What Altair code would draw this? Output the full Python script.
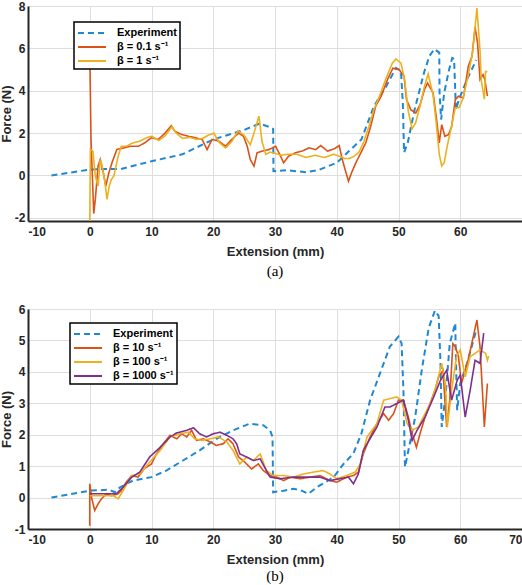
import altair as alt
import pandas as pd

# ---------------- Panel (a) ----------------
a_exp_x = [-6.2, 0, 2, 5, 10, 15, 20, 25, 27.5, 29, 29.7, 29.75, 32, 35, 37, 40, 42, 44, 46, 47, 48, 49.6, 50.4, 50.7, 50.9,
           51.5, 52.6, 54.2, 55.0, 55.8, 56.6, 56.65, 56.9, 57.4, 58.2, 58.7, 59.0, 59.3, 59.8, 61.2, 62.6]
a_exp_y = [0, 0.28, 0.3, 0.3, 0.67, 1.0, 1.7, 2.15, 2.45, 2.3, 2.2, 0.2, 0.25, 0.15, 0.25, 0.6, 1.15, 1.7, 3.25, 3.75, 4.2, 5.08, 4.92, 3.44, 1.08,
           1.55, 3.1, 4.92, 5.63, 5.97, 5.8, 3.9, 2.64, 3.9, 5.0, 5.55, 5.5, 3.1, 3.6, 4.6, 5.45]

a_r1_x = [0, 0.2, 0.65, 0.9, 1.35, 1.7, 2.2, 2.6, 3.1, 3.6, 4.4, 5.5, 6.6, 7.9, 8.9, 10, 11.1, 12.2, 13.2, 13.8, 14.9, 16, 17.1, 18.2,
          19, 19.8, 20.9, 22, 23, 24.1, 24.9, 25.5, 26, 26.6, 27.1, 27.9, 29, 30.1, 30.9, 31.4, 32.2, 33.3, 34.4, 35.5, 36.6,
          37.4, 38.5, 39.6, 40.4, 40.9, 41.5, 41.9, 42.4, 43.1, 43.9, 44.7, 45.5, 46.3, 47.2, 48.2, 49.1, 50.1, 50.9, 51.3,
          52.0, 52.8, 53.5, 54.2, 54.7, 55.6, 56.1, 56.6, 57, 57.5, 58.1, 58.6, 59.2, 59.7, 60.5, 61.3, 61.9, 62.4, 62.8,
          63.2, 63.7, 64.0, 64.4]
a_r1_y = [6.0, 1.7, -1.8, -1.13, 0.44, 0.75, 0.13, -0.5, 0.13, 0.6, 1.23, 1.3, 1.38, 1.38, 1.54, 1.78, 1.7, 2.0, 2.35, 2.08, 1.93, 1.85, 1.78, 1.7,
          1.22, 1.7, 1.62, 1.38, 1.7, 2.0, 1.85, 1.38, 0.75, 0.44, 1.07, 1.15, 1.22, 1.38, 0.91, 0.6, 0.91, 1.07, 1.15, 1.3, 1.22,
          1.41, 1.15, 1.26, 1.41, 0.75, 0.13, -0.27, 0.13, 0.6, 1.07, 1.54, 2.32, 3.27, 3.74, 4.52, 5.07, 5.0, 4.68, 3.58,
          3.1, 2.95, 3.34, 4.05, 4.36, 3.9, 2.8, 1.54, 2.4, 1.85, 1.93, 2.3, 3.58, 3.74, 3.66, 5.15, 5.62, 7.0, 6.26,
          4.53, 4.76, 4.5, 3.74]

a_r2_x = [0, 0.1, 0.5, 0.9, 1.35, 1.7, 2.0, 2.4, 2.8, 3.15, 3.5, 3.9, 4.6, 5.1, 5.9, 7.0, 8.1, 9.2, 10, 11.2, 12.3, 13.3, 14, 15,
          16.2, 17.3, 18.3, 19.2, 20.1, 21, 22, 23, 24, 25, 26, 26.8, 27.4, 27.9, 28.5, 29.2, 30, 31, 32, 33.5, 35, 36.5, 38,
          39.5, 40.5, 41.3, 42, 42.8, 43.6, 44.4, 45.2, 46, 47, 48, 49, 49.6, 50.4, 51, 51.6, 52.2, 52.8, 53.5, 54.2, 54.8,
          55.6, 56.1, 56.6, 57.0, 57.4, 57.9, 58.5, 59.2, 59.8, 60.4, 61.2, 62.0, 62.7, 63.2, 63.4, 63.9, 64.1, 64.4]
a_r2_y = [-2.25, 1.23, 1.16, -0.03, -0.5, 0.75, 0.44, -0.19, -1.13, -0.5, -0.19, -0.03, 0.9, 1.38, 1.38, 1.54, 1.62, 1.78, 1.85, 1.65, 1.9, 2.3, 2.0, 1.75,
          1.8, 1.7, 1.75, 1.9, 2.0, 1.55, 1.3, 1.6, 2.1, 1.9, 1.45, 2.2, 2.8, 1.6, 1.0, 1.1, 1.05, 0.95, 1.0, 1.0, 0.85, 0.95, 0.85,
          1.0, 0.9, 0.8, 0.8, 0.9, 1.1, 1.6, 2.3, 3.1, 3.8, 4.6, 5.3, 5.5, 5.3, 4.5, 3.0, 2.2, 2.5, 3.3, 4.2, 4.8,
          3.8, 2.5, 1.0, 0.45, 0.6, 1.4, 2.2, 3.2, 3.2, 3.6, 4.6, 5.8, 7.9, 5.9, 4.5, 3.6, 4.9, 4.9]

# ---------------- Panel (b) ----------------
b_exp_x = [-6.2, 0, 3.2, 4.05, 4.9, 7, 10, 12.4, 15.1, 17.8, 20.5, 23.2, 25.9, 28.1, 29.2, 29.6, 29.7, 31.4, 33, 34.3, 35.4, 36.8,
           39.5, 41.1, 42.7, 44, 45.4, 47, 48.6, 50, 50.5, 50.8, 51.05, 51.6, 52.7, 53.8, 54.9, 55.9, 56.5, 56.8, 57.0, 57.6,
           58.3, 59.2, 59.25, 59.5, 60.0, 61.1, 62.6]
b_exp_y = [0, 0.22, 0.25, 0.17, 0.33, 0.54, 0.65, 0.86, 1.18, 1.5, 1.87, 2.14, 2.35, 2.3, 2.14, 1.93, 0.17, 0.22, 0.28, 0.22, 0.12, 0.33,
           0.65, 1.07, 1.4, 2.04, 3.1, 3.95, 4.8, 5.12, 4.9, 3.4, 0.97, 1.5, 2.56, 4.1, 5.4, 5.95, 5.78, 4.3, 2.25, 3.2,
           4.9, 5.55, 4.8, 2.78, 3.63, 4.27, 5.33]

b_r1_x = [0, 0, 0.3, 0.8, 1.35, 1.9, 2.7, 3.5, 4.6, 5.1, 5.9, 6.8, 7.8, 8.9, 10, 10.8, 11.9, 13, 14.1, 14.9, 15.7, 16.5, 17.3,
          18.4, 19.5, 20.5, 21.6, 22.4, 23.2, 24.1, 25.1, 26.2, 27.3, 28.1, 29.2, 30.3, 31.4, 32.4, 34.1, 35.7, 37.3, 38.9, 40,
          41.6, 42.7, 43.5, 44.3, 45.4, 46.5, 47.6, 48.4, 49.2, 50, 50.8, 51.6, 52.2, 52.9, 53.5, 54.3, 55.1, 55.9, 56.5,
          57.2, 57.8, 58.3, 58.8, 59.2, 59.7, 60.2, 61.3, 62.2, 62.7, 63.2, 63.9, 64.4]
b_r1_y = [-0.9, 0.44, 0.0, -0.41, -0.2, -0.04, 0.12, 0.06, 0.12, 0.22, 0.49, 0.7, 0.65, 0.93, 1.07, 1.39, 1.71, 1.98, 1.87, 2.03, 1.93, 2.14, 1.82,
          1.87, 1.77, 1.66, 1.71, 1.87, 1.71, 1.29, 1.13, 0.91, 1.07, 0.86, 0.7, 0.65, 0.54, 0.65, 0.6, 0.65, 0.7, 0.54, 0.49,
          0.65, 0.7, 0.81, 1.39, 1.93, 2.35, 2.67, 2.46, 2.67, 3.1, 3.1, 2.56, 2.04, 1.6, 2.04, 2.56, 2.99, 3.41, 3.84,
          4.05, 2.25, 3.1, 4.9, 4.8, 4.5, 3.63, 4.4, 5.2, 5.65, 4.8, 2.25, 3.63]

b_r2_x = [0, 1.6, 3.8, 4.6, 5.4, 6.8, 8.1, 9.7, 11.4, 13, 14.6, 16, 17, 18.1, 19.5, 20.8, 22.2, 23.2, 24.3, 25.4, 26.5, 27.6,
          28.6, 29.7, 31.4, 33, 34.6, 36.2, 37.8, 38.9, 40, 41.6, 43, 43.8, 44.9, 46.5, 47.6, 48.6, 49.7, 50.5, 51.4, 52.2,
          53.2, 54.3, 55.4, 56.2, 57, 57.6, 57.9, 58.6, 59.4, 60, 60.8, 61.6, 62.4, 63.2, 64.1, 64.4, 64.6]
b_r2_y = [0.06, 0.06, 0.06, -0.04, 0.22, 0.7, 0.75, 1.13, 1.5, 1.93, 2.03, 2.08, 1.87, 1.82, 1.87, 1.93, 1.77, 1.5, 1.07, 1.29, 1.18, 1.39,
          0.86, 0.7, 0.7, 0.65, 0.75, 0.81, 0.86, 0.75, 0.6, 0.7, 0.81, 1.07, 1.93, 2.35, 3.1, 3.15, 3.2, 3.1, 2.35, 2.14,
          2.24, 2.67, 3.1, 3.63, 4.27, 3.63, 2.24, 3.41, 4.48, 4.7, 3.84, 4.48, 4.59, 4.7, 4.59, 4.37, 4.5]

b_r3_x = [0, 4.3, 5.4, 6.8, 8.1, 9.7, 11.4, 13, 14.1, 15.7, 16.8, 17.8, 18.9, 20, 21.1, 22.2, 23.2, 23.8, 24.3, 25.4, 26.5, 27.6,
          28.6, 29.2, 30.8, 33, 35.1, 37.3, 38.9, 40.5, 41.9, 42.7, 43.5, 44.3, 44.9, 46.5, 47.8, 48.6, 49.7, 50.8, 51.6,
          52.2, 53, 54.3, 55.7, 56.8, 57.8, 58.6, 59.5, 60, 60.8, 61.6, 62.4, 63.2, 63.8]
b_r3_y = [0.12, 0.12, 0.33, 0.65, 0.81, 1.29, 1.6, 1.93, 2.06, 2.14, 2.22, 2.03, 1.93, 2.03, 2.08, 1.98, 1.87, 1.71, 1.39, 1.29, 1.18, 1.23,
          0.86, 0.65, 0.6, 0.65, 0.65, 0.65, 0.54, 0.6, 0.65, 0.44, 0.75, 1.5, 1.71, 2.24, 2.88, 2.88, 2.99, 3.1, 2.46,
          1.82, 2.14, 2.56, 3.2, 3.73, 4.05, 3.1, 3.73, 3.9, 2.56, 3.41, 4.37, 4.27, 5.23]

a_names = ["Experiment", "β = 0.1 s⁻¹", "β = 1 s⁻¹"]
b_names = ["Experiment", "β = 10 s⁻¹", "β = 100 s⁻¹", "β = 1000 s⁻¹"]

BLUE, ORANGE, YELLOW, PURPLE = "#1f88d2", "#D95319", "#EDB120", "#7E2F8E"
FONT = "Liberation Sans"
DARK = "#262626"


def frame(names, xs, ys):
    rows = []
    for k, (n, xx, yy) in enumerate(zip(names, xs, ys)):
        for i, (x, y) in enumerate(zip(xx, yy)):
            rows.append({"series": n, "x": x, "y": y, "i": i, "w": 2.0 if k == 0 else 1.6})
    return pd.DataFrame(rows)


def panel(df, names, colors, ydom, yvals, xvals, h, caption, lx, ly, tpad, coff):
    leg = alt.Legend(title=None, orient="none", legendX=lx, legendY=ly)
    return alt.Chart(df).mark_line(clip=True).encode(
        x=alt.X("x:Q", scale=alt.Scale(domain=[-10, 70], nice=False, zero=False),
                axis=alt.Axis(values=xvals, title="Extension (mm)", labelExpr="'' + datum.value",
                              titlePadding=tpad)),
        y=alt.Y("y:Q", scale=alt.Scale(domain=ydom, nice=False, zero=False),
                axis=alt.Axis(values=yvals, title="Force (N)", labelExpr="'' + datum.value")),
        color=alt.Color("series:N", scale=alt.Scale(domain=names, range=colors), legend=leg),
        strokeDash=alt.StrokeDash("series:N",
                                  scale=alt.Scale(domain=names, range=[[6, 4]] + [[1, 0]] * (len(names) - 1)),
                                  legend=leg),
        strokeWidth=alt.StrokeWidth("w:Q", scale=None, legend=None),
        order="i:Q",
        detail="series:N",
    ).properties(
        width=494, height=h,
        title=alt.TitleParams(caption, orient="bottom", anchor="middle", font="Liberation Serif",
                              fontSize=15, fontWeight="normal", color="black", offset=coff),
    )


top = panel(frame(a_names, [a_exp_x, a_r1_x, a_r2_x], [a_exp_y, a_r1_y, a_r2_y]),
            a_names, [BLUE, ORANGE, YELLOW], [-2.15, 8], [-2, 0, 2, 4, 6, 8],
            [-10, 0, 10, 20, 30, 40, 50, 60], 215, "(a)", 46, 16, 8, 6)
bot = panel(frame(b_names, [b_exp_x, b_r1_x, b_r2_x, b_r3_x], [b_exp_y, b_r1_y, b_r2_y, b_r3_y]),
            b_names, [BLUE, ORANGE, YELLOW, PURPLE], [-1, 6], [-1, 0, 1, 2, 3, 4, 5, 6],
            [-10, 0, 10, 20, 30, 40, 50, 60, 70], 220, "(b)", 42, 14, 8, 3)

chart = alt.vconcat(top, bot, spacing=24).resolve_scale(
    color="independent", strokeDash="independent", x="independent", y="independent"
).resolve_legend(color="independent", strokeDash="independent").properties(
    padding={"left": 0, "top": 0, "right": 0, "bottom": 0},
    background="white",
).configure_view(stroke=None).configure_axis(
    labelFont=FONT, labelFontWeight="bold", labelFontSize=12, labelColor=DARK,
    titleFont=FONT, titleFontWeight="bold", titleFontSize=13, titleColor=DARK,
    gridColor="#dedede", gridWidth=1, domainColor=DARK, domainWidth=2,
    ticks=False, labelPadding=5,
).configure_axisY(titlePadding=1, labelPadding=3).configure_legend(
    fillColor="white", strokeColor="black", strokeWidth=1.5, padding=3,
    labelFont=FONT, labelFontWeight="bold", labelFontSize=11, labelColor="black",
    symbolType="M-2,0H2", symbolSize=196, symbolStrokeWidth=2, symbolOffset=7,
    rowPadding=1, labelOffset=17, cornerRadius=0,
)

chart.save("out.html", embed_options={"renderer": "svg", "actions": False})
